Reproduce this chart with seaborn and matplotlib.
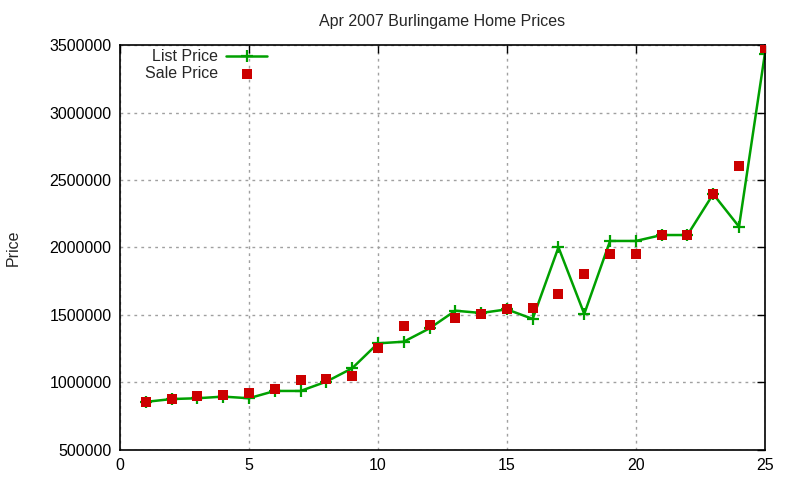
import matplotlib
matplotlib.use("Agg")
import matplotlib.pyplot as plt
import seaborn as sns
import pandas as pd

homes = list(range(1, 26))
list_price = [855000, 876000, 882000, 894000, 882000, 936000, 936000, 1005000, 1104000, 1289000,
              1301000, 1400000, 1531000, 1514000, 1541000, 1470000, 2001000, 1507000, 2048000, 2048000,
              2092000, 2092000, 2396000, 2154000, 3432000]
sale_price = [855000, 875000, 899000, 906000, 923000, 953000, 1017000, 1027000, 1049000, 1257000,
              1418000, 1425000, 1479000, 1507000, 1546000, 1553000, 1657000, 1805000, 1954000, 1954000,
              2092000, 2092000, 2396000, 2606000, 3481000]
x_ticks = [0, 5, 10, 15, 20, 25]
y_ticks = [500000, 1000000, 1500000, 2000000, 2500000, 3000000, 3500000]

df = pd.DataFrame({"home": homes, "list": list_price, "sale": sale_price})

sns.set_style("white")
plt.rcParams['font.family'] = ['Liberation Sans', 'DejaVu Sans']

fig = plt.figure(figsize=(8, 4.8), dpi=100)
ax = fig.add_axes([0.15, 0.063, 0.806, 0.843])

sns.lineplot(data=df, x="home", y="list", ax=ax, color="#00a000", linewidth=1.8,
             marker="+", markersize=9, markeredgewidth=1.6, markeredgecolor="#00a000",
             markerfacecolor="#00a000", label="List Price")
sns.scatterplot(data=df, x="home", y="sale", ax=ax, color="#cc0000", marker="s",
                s=48, linewidth=0, label="Sale Price", zorder=3)

ax.set_xlim(0, 25)
ax.set_ylim(500000, 3500000)
ax.set_xticks(x_ticks)
ax.set_yticks(y_ticks)
ax.set_xticklabels([str(v) for v in x_ticks])
ax.set_yticklabels([str(v) for v in y_ticks])
ax.grid(True, color="#a0a0a0", linestyle=(0, (2, 3)), linewidth=1)
ax.tick_params(direction="in", length=6, width=1, top=True, right=True, labelsize=11.5,
               colors="black", pad=6)
for s in ax.spines.values():
    s.set_color("black")
    s.set_linewidth(1.2)

ax.set_xlabel("")
ax.set_ylabel("Price", fontsize=11.5, labelpad=21)
ax.set_title("Apr 2007 Burlingame Home Prices", fontsize=11.5, pad=14)

leg = ax.legend(loc="upper left", bbox_to_anchor=(0.181, 0.897), bbox_transform=fig.transFigure,
                frameon=False, markerfirst=False, fontsize=11.5, handlelength=2.6,
                handletextpad=0.5, labelspacing=0.1, borderpad=0, borderaxespad=0)

# right-align legend labels like gnuplot (measure shift response, then correct)
texts = leg.get_texts()
renderer = fig.canvas.get_renderer()

def right_edges():
    fig.canvas.draw()
    return [t.get_window_extent(renderer).x1 for t in texts]

for t in texts:
    t.set_position((0, 0))
e0 = right_edges()
for t in texts:
    t.set_position((1, 0))
e1 = right_edges()
slope = e1[0] - e0[0] if e1[0] != e0[0] else 1.0
target = max(e0)
for t, x0 in zip(texts, e0):
    t.set_position(((target - x0) / slope, 0))

fig.savefig("out.png", dpi=100)
